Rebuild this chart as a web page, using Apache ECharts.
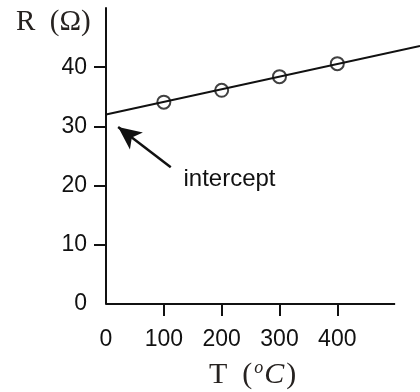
<!DOCTYPE html>
<html>
<head>
<meta charset="utf-8">
<script src="https://cdn.jsdelivr.net/npm/echarts@6/dist/echarts.min.js"></script>
<style>
  html, body { margin: 0; padding: 0; background: #fff; }
  #chart { width: 420px; height: 392px; }
</style>
</head>
<body>
<div id="chart"></div>
<script>
// measured points
const temps = [100, 200, 300, 400];
const resistances = [34.1, 36.1, 38.4, 40.6];

// fitted straight line, runs past the end of the drawn axis
const fitT = [0, 543];
const fitR = [32.0, 43.6];

// drawn part of the T axis
const xAxisSpan = [0, 500];

// intercept annotation: arrow tail -> tip, and label anchor
const arrowFrom = [112, 23.1];
const arrowTo = [21, 29.9];
const noteAt = [134, 21.1];
const noteText = 'intercept';

const xTicks = [100, 200, 300, 400];
const xLabels = [0, 100, 200, 300, 400];
const yTicks = [10, 20, 30, 40];
const yLabels = [0, 10, 20, 30, 40];

const ink = '#111';
const titleInk = '#262220';
const sans = '"Liberation Sans", Arial, sans-serif';
const serif = '"Liberation Serif", "DejaVu Serif", serif';

const chart = echarts.init(document.getElementById('chart'));

const option = {
  animation: false,
  title: [
    {
      text: 'R\u2002(Ω)',
      left: 11,
      top: 3,
      textStyle: { fontFamily: serif, fontWeight: 'normal', fontSize: 29, color: titleInk }
    },
    {
      text: 'T\u2002({sup|o}{it|C})',
      left: 204,
      top: 354,
      textStyle: {
        fontFamily: serif,
        fontWeight: 'normal',
        fontSize: 30,
        lineHeight: 32,
        color: titleInk,
        rich: {
          sup: { fontFamily: serif, fontSize: 18, lineHeight: 18, fontStyle: 'italic', color: titleInk, verticalAlign: 'top', padding: [0, 1, 0, 2] },
          it: { fontFamily: serif, fontSize: 30, lineHeight: 32, fontStyle: 'italic', color: titleInk, padding: [0, 2, 0, 0] }
        }
      }
    }
  ],
  grid: { left: 106, right: 0, top: 8, bottom: 88, outerBoundsMode: 'none', containLabel: false },
  xAxis: {
    type: 'value',
    min: 0,
    max: 543,
    interval: 100,
    axisLine: { show: false },
    axisTick: { show: true, inside: false, length: 12, customValues: xTicks, lineStyle: { color: ink, width: 2 } },
    axisLabel: {
      customValues: xLabels,
      margin: 24,
      fontFamily: sans,
      fontSize: 23,
      color: ink
    },
    splitLine: { show: false }
  },
  yAxis: {
    type: 'value',
    min: 0,
    max: 50,
    interval: 10,
    axisLine: { show: true, onZero: false, lineStyle: { color: ink, width: 2 } },
    axisTick: { show: true, inside: false, length: 12, customValues: yTicks, lineStyle: { color: ink, width: 2 } },
    axisLabel: {
      customValues: yLabels,
      margin: 19,
      fontFamily: sans,
      fontSize: 23,
      color: ink
    },
    splitLine: { show: false }
  },
  series: [
    {
      name: 'fit',
      type: 'line',
      showSymbol: false,
      silent: true,
      lineStyle: { color: ink, width: 2 },
      data: fitT.map((t, i) => [t, fitR[i]]),
      markLine: {
        silent: true,
        symbol: ['none', 'none'],
        label: { show: false },
        lineStyle: { color: ink, width: 2, type: 'solid' },
        data: [[{ coord: [xAxisSpan[0], 0] }, { coord: [xAxisSpan[1], 0] }]]
      }
    },
    {
      name: 'note',
      type: 'line',
      data: [],
      silent: true,
      markLine: {
        silent: true,
        symbol: ['none', 'arrow'],
        symbolSize: [16, 23],
        label: { show: false },
        lineStyle: { color: ink, width: 2.5, type: 'solid' },
        data: [[{ coord: arrowFrom }, { coord: arrowTo }]]
      },
      markPoint: {
        silent: true,
        symbol: 'circle',
        symbolSize: 0,
        label: {
          show: true,
          position: 'right',
          distance: 0,
          formatter: noteText,
          fontFamily: sans,
          fontSize: 24,
          color: ink
        },
        data: [{ coord: noteAt }]
      }
    },
    {
      name: 'R',
      type: 'scatter',
      symbol: 'emptyCircle',
      symbolSize: 13,
      itemStyle: { color: ink, borderWidth: 2 },
      data: temps.map((t, i) => [t, resistances[i]])
    }
  ]
};

chart.setOption(option);
</script>
</body>
</html>
